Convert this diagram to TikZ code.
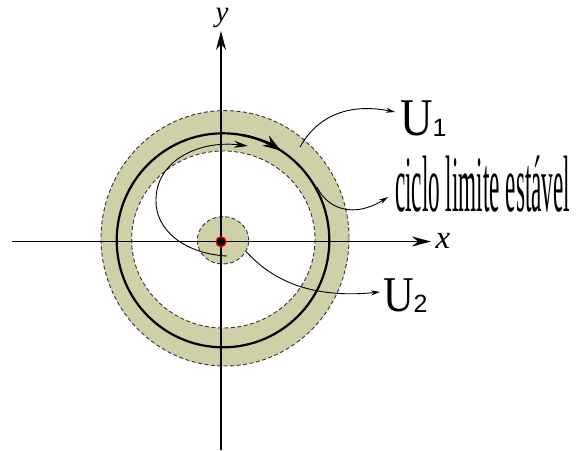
\documentclass[tikz,border=0pt]{standalone}
\usepackage{fontspec}
\setmainfont{Liberation Serif}
\newfontfamily\lsans{Liberation Sans}
\usetikzlibrary{arrows.meta,shapes.geometric}
\definecolor{ringcol}{RGB}{207,208,168}
\begin{document}
\begin{tikzpicture}[x=1pt,y=-1pt,
  axisline/.style={line width=1.5pt,-{Stealth[length=19pt,width=10pt]}},
  dashedcirc/.style={draw=black!80,line width=0.9pt,dash pattern=on 4pt off 2.5pt},
  cyclecirc/.style={draw=black,line width=2.2pt},
  thinarrow/.style={line width=0.9pt,-{Stealth[length=9pt,width=5pt]}},
  spiralarrow/.style={line width=0.9pt,-{Stealth[length=14pt,width=7pt]}},
  lbl/.style={inner sep=0pt,outer sep=0pt}]
\useasboundingbox (0,0) rectangle (577,450);
% ring fill
\fill[ringcol,even odd rule] (225,238.3) ellipse[x radius=124,y radius=127.7]
  (223.3,239.5) ellipse[x radius=91.7,y radius=88.5];
% small neighbourhood U2
\node[ellipse,fill=ringcol,dashedcirc,minimum width=51.4pt,minimum height=47.4pt,inner sep=0pt] (disk) at (223,240.3) {};
% axes
\coordinate (xs) at (12,241.5);
\coordinate (xe) at (431,241.5);
\coordinate (ys) at (221,450);
\coordinate (ye) at (221,31);
\draw[axisline] (xs) -- (xe);
\draw[axisline] (ys) -- (ye);
% dashed ring boundaries
\draw[dashedcirc] (225,238.3) ellipse[x radius=124,y radius=127.7];
\draw[dashedcirc] (223.3,239.5) ellipse[x radius=91.7,y radius=88.5];
% limit cycle
\draw[cyclecirc] (223,240.3) ellipse[x radius=106.3,y radius=107];
\draw[line width=2.2pt,-{Stealth[length=18pt,width=12pt]}] (223,240.3) ++(-80:106.3 and 107) arc[start angle=-80,end angle=-57,x radius=106.3,y radius=107];
% spiral trajectory
\coordinate (sp0) at (227,256);
\coordinate (sp1) at (156,200);
\coordinate (sp2) at (248,146);
\draw[spiralarrow] (sp0) .. controls (185,254) and (155,230) .. (sp1) .. controls (156,160) and (200,140) .. (sp2);
% equilibrium point
\node[circle,fill=black,draw=red,line width=1.2pt,minimum size=10pt,inner sep=0pt] (eq) at (221,241.7) {};
% labels
\node[lbl,anchor=base] (xl) at (443,248) {\fontsize{33}{33}\selectfont\itshape x};
\node[lbl,anchor=base] (yl) at (222,21) {\fontsize{29}{29}\selectfont\itshape y};
\node[lbl,anchor=base west] (U1) at (400,135) {\scalebox{0.85}[1]{\fontsize{53}{53}\selectfont U}{\lsans\fontsize{25}{25}\selectfont\raisebox{-1pt}{1}}};
\node[lbl,anchor=base west] (U2) at (383,311) {\scalebox{0.85}[1]{\fontsize{50}{50}\selectfont U}{\lsans\fontsize{25}{25}\selectfont\raisebox{-1pt}{2}}};
\node[lbl,anchor=base west] (cl) at (395,211.7) {\resizebox{175pt}{\height}{\fontsize{80}{80}\selectfont ciclo limite estável}};
% label connectors
\coordinate (a1s) at (300,147);
\coordinate (a1e) at (395,112);
\coordinate (a2s) at (317,187);
\coordinate (a2e) at (388,197);
\coordinate (a3e) at (380,292);
\draw[thinarrow] (a1s) .. controls (318,115) and (350,103) .. (a1e);
\draw[thinarrow] (a2s) .. controls (328,210) and (355,218) .. (a2e);
\draw[thinarrow] (disk.-26) .. controls (265,272) and (300,300) .. (a3e);
\end{tikzpicture}
\end{document}
